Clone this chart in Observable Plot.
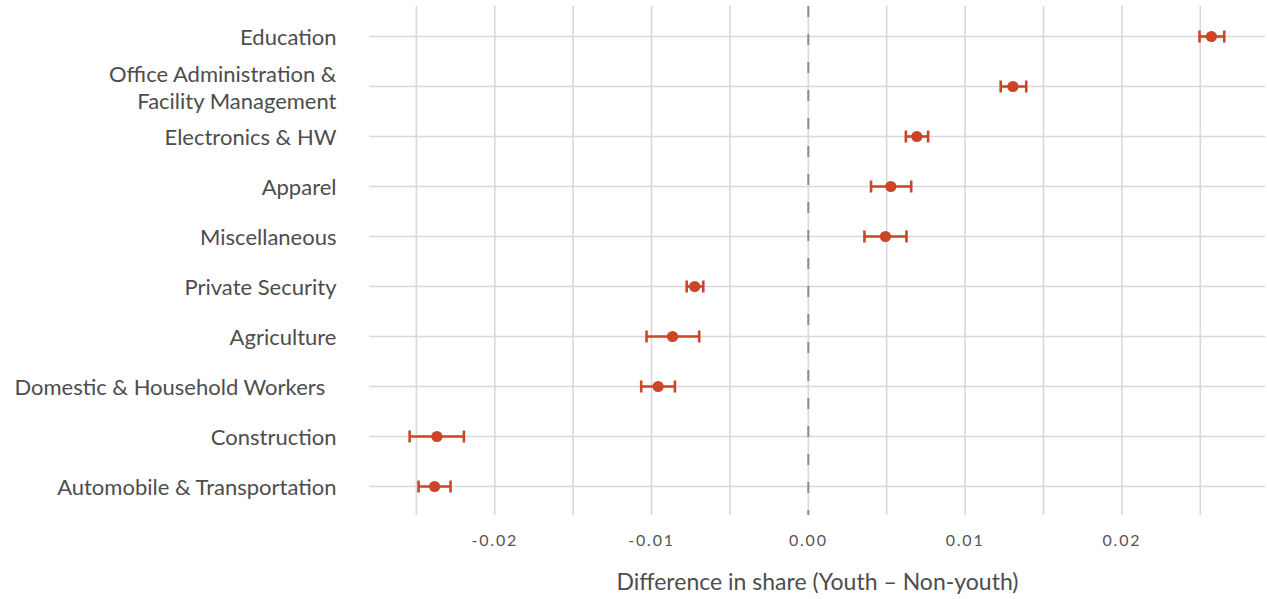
<!DOCTYPE html>
<html>
<head>
<meta charset="utf-8">
<script src="https://cdn.jsdelivr.net/npm/d3@7"></script>
<script src="https://cdn.jsdelivr.net/npm/@observablehq/plot@0.6"></script>
<style>
  html, body { margin: 0; padding: 0; background: #ffffff; }
  #chart svg { display: block; }
</style>
</head>
<body>
<div id="chart"></div>
<script>
// Occupational categories, top to bottom
const categories = [
  "Education",
  "Office Administration &\nFacility Management",
  "Electronics & HW",
  "Apparel",
  "Miscellaneous",
  "Private Security",
  "Agriculture",
  "Domestic & Household Workers\u00a0\u00a0",
  "Construction",
  "Automobile & Transportation"
];

// Point estimate of the share difference and its confidence interval
const estimates = [0.02571, 0.01305, 0.00692, 0.00526, 0.00492, -0.00725, -0.00866, -0.00958, -0.02369, -0.02384];
const lower     = [0.02495, 0.01227, 0.00622, 0.00400, 0.00358, -0.00776, -0.01032, -0.01066, -0.02543, -0.02486];
const upper     = [0.02653, 0.01390, 0.00764, 0.00656, 0.00626, -0.00670, -0.00696, -0.00851, -0.02197, -0.02282];

// Axis ticks
const xTickValues = [-0.02, -0.01, 0, 0.01, 0.02];
const xTickLabels = ["-0.02", "-0.01", "0.00", "0.01", "0.02"];
const gridValues = [-0.025, -0.02, -0.015, -0.01, -0.005, 0, 0.005, 0.01, 0.015, 0.02, 0.025];

const rows = categories.map((c, i) => ({
  category: c,
  estimate: estimates[i],
  lower: lower[i],
  upper: upper[i]
}));

// vertical bar used as the whisker end cap (half-height equals the dot radius)
const capSymbol = {
  draw(context, size) {
    const h = Math.sqrt(size / Math.PI);
    context.moveTo(0, -h);
    context.lineTo(0, h);
  }
};

const accent = "#cc4528";
const gridColor = "#d9d9d9";
const textColor = "#4d4d4d";

const chart = Plot.plot({
  width: 1267,
  height: 599,
  marginLeft: 369,
  marginRight: 2,
  marginTop: 6,
  marginBottom: 84,
  style: { fontFamily: "Lato, 'Open Sans', sans-serif", color: textColor, background: "#ffffff" },
  x: { domain: [-0.02799, 0.02916] },
  y: { type: "point", domain: categories, padding: 0.56 },
  marks: [
    // vertical grid
    Plot.ruleX(gridValues, { stroke: gridColor, strokeWidth: 1.6 }),
    // horizontal grid per category
    Plot.ruleY(categories, { stroke: gridColor, strokeWidth: 1.6 }),
    // zero reference
    Plot.ruleX([0], { stroke: "#8c8c8c", strokeWidth: 2, strokeDasharray: "11,17" }),
    // confidence intervals
    Plot.ruleY(rows, { y: "category", x1: "lower", x2: "upper", stroke: accent, strokeWidth: 2.6 }),
    Plot.dot(rows, { x: "lower", y: "category", symbol: capSymbol, r: 6, stroke: accent, strokeWidth: 2.6, fill: "none" }),
    Plot.dot(rows, { x: "upper", y: "category", symbol: capSymbol, r: 6, stroke: accent, strokeWidth: 2.6, fill: "none" }),
    // point estimates
    Plot.dot(rows, { x: "estimate", y: "category", r: 5.6, fill: accent, stroke: "none" }),
    // axes
    Plot.axisY({
      tickSize: 0,
      tickPadding: 33,
      fontSize: 22,
      lineHeight: 1.24,
      fill: textColor,
      label: null
    }),
    Plot.axisX({
      ticks: xTickValues,
      tickFormat: (d) => xTickLabels[xTickValues.indexOf(d)],
      tickSize: 0,
      tickPadding: 19,
      fontSize: 16,
      fill: "#555555",
      label: "Difference in share (Youth \u2013 Non-youth)",
      labelAnchor: "center",
      labelArrow: "none",
      labelOffset: 74
    })
  ]
});

// tick label spacing and axis title styling
d3.select(chart).selectAll("g[aria-label='x-axis tick label'] text").attr("letter-spacing", "1.8px");
d3.select(chart).selectAll("g[aria-label='x-axis label'] text").attr("font-size", 23).attr("fill", textColor);

document.getElementById("chart").appendChild(chart);
</script>
</body>
</html>
